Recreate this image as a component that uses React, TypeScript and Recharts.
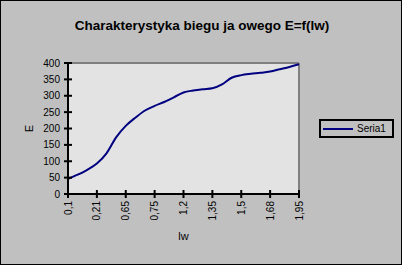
import React from 'react';
import { LineChart, Line, XAxis, YAxis, CartesianGrid, ReferenceLine } from 'recharts';

// lw categories (every third label is shown on the axis)
const categories = [
  '0,1', '0,13', '0,17', '0,21', '0,35', '0,5', '0,65', '0,68', '0,72',
  '0,75', '0,9', '1,05', '1,2', '1,25', '1,3', '1,35', '1,4', '1,45',
  '1,5', '1,56', '1,62', '1,68', '1,77', '1,86', '1,95',
];
// Seria1 values (E)
const seria1 = [
  46, 59, 74, 93, 124, 173, 208, 233, 255,
  269, 281, 295, 310, 316, 320, 323, 335, 355,
  363, 367, 370, 374, 381, 388, 396,
];
const yTicks = [0, 50, 100, 150, 200, 250, 300, 350, 400];

const title = 'Charakterystyka biegu ja owego E=f(lw)';
const seriesName = 'Seria1';

const data = categories.map((c, i) => ({ lw: c, E: seria1[i] }));

const FONT = 'Arial, "Liberation Sans", sans-serif';

const YTick = (props: any) => {
  const { x, y, payload } = props;
  return (
    <g>
      <line x1={x - 4} x2={x + 4} y1={y} y2={y} stroke="#000" strokeWidth={2} />
      <text x={x - 8} y={y} dy="0.35em" textAnchor="end" fontSize={10} fontFamily={FONT} fill="#000">
        {payload.value}
      </text>
    </g>
  );
};

const XTick = (props: any) => {
  const { x, y, payload } = props;
  return (
    <g>
      <line x1={x} x2={x} y1={y - 4} y2={y + 4} stroke="#000" strokeWidth={2} />
      <text
        x={x}
        y={y + 7}
        dy="0.35em"
        textAnchor="end"
        fontSize={10}
        fontFamily={FONT}
        fill="#000"
        transform={`rotate(-90 ${x} ${y + 7})`}
      >
        {payload.value}
      </text>
    </g>
  );
};

export default function App() {
  return (
    <div
      style={{
        position: 'absolute',
        left: 0,
        top: 0,
        width: 402,
        height: 265,
        background: '#c0c0c0',
        border: '1px solid #000',
        boxSizing: 'border-box',
        fontFamily: FONT,
      }}
    >
      <div
        style={{
          position: 'absolute',
          left: 0,
          top: 16,
          width: 402,
          textAlign: 'center',
          fontSize: 13.5,
          fontWeight: 'bold',
          lineHeight: '17px',
          color: '#000',
        }}
      >
        {title}
      </div>
      <div style={{ position: 'absolute', left: -1, top: -1 }}>
        <LineChart
          width={402}
          height={265}
          data={data}
          margin={{ top: 63, right: 103, left: 0, bottom: 0 }}
        >
          <CartesianGrid horizontal={false} vertical={false} fill="#e3e3e3" />
          <ReferenceLine y={400} stroke="#808080" strokeWidth={2} />
          <ReferenceLine x="1,95" stroke="#808080" strokeWidth={2} />
          <XAxis
            dataKey="lw"
            interval={2}
            height={71}
            tickSize={0}
            tickMargin={0}
            tick={<XTick />}
            axisLine={{ stroke: '#000', strokeWidth: 2 }}
            label={{ value: 'lw', position: 'insideBottom', offset: 25, fontSize: 11, fontFamily: FONT, fill: '#000' }}
          />
          <YAxis
            width={68}
            domain={[0, 400]}
            ticks={yTicks}
            interval={0}
            tickSize={0}
            tickMargin={0}
            tick={<YTick />}
            axisLine={{ stroke: '#000', strokeWidth: 2 }}
            label={{
              value: 'E',
              angle: -90,
              position: 'insideLeft',
              offset: 29,
              fontSize: 11,
              fontFamily: FONT,
              fill: '#000',
              style: { textAnchor: 'middle' },
            }}
          />
          <Line
            type="monotone"
            dataKey="E"
            name={seriesName}
            stroke="#000080"
            strokeWidth={2}
            dot={false}
            isAnimationActive={false}
          />
        </LineChart>
      </div>
      <div
        style={{
          position: 'absolute',
          left: 318,
          top: 118,
          width: 75,
          height: 19,
          border: '2px solid #000',
          boxSizing: 'border-box',
          background: '#c0c0c0',
        }}
      >
        <div style={{ position: 'absolute', left: 2, top: 6.5, width: 30, height: 2, background: '#000080' }} />
        <div
          style={{
            position: 'absolute',
            left: 36,
            top: 1,
            fontSize: 10,
            lineHeight: '14px',
            color: '#000',
          }}
        >
          {seriesName}
        </div>
      </div>
    </div>
  );
}
